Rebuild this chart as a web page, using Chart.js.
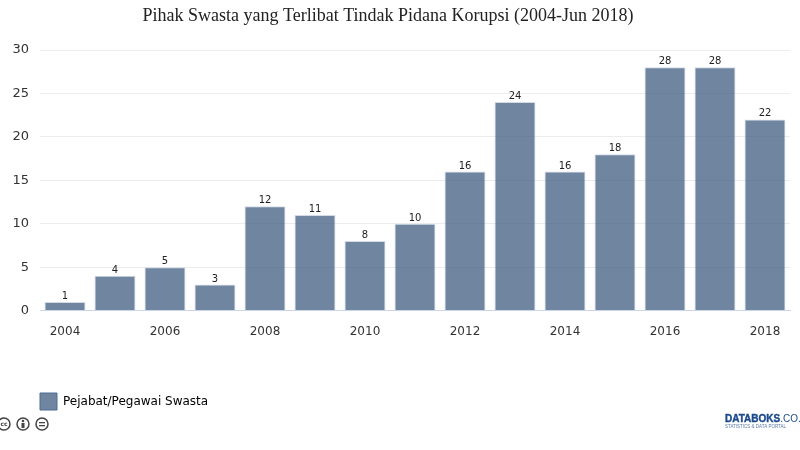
<!DOCTYPE html>
<html>
<head>
<meta charset="utf-8">
<script src="https://cdn.jsdelivr.net/npm/chart.js@4"></script>
<style>
  html, body { margin: 0; padding: 0; background: #fff; }
  #wrap { position: relative; width: 800px; height: 450px; overflow: hidden; }
</style>
</head>
<body>
<div id="wrap"><canvas id="korupsiChart" width="800" height="450"></canvas></div>
<script>
// data
const years = ['2004','2005','2006','2007','2008','2009','2010','2011','2012','2013','2014','2015','2016','2017','2018'];
const swasta = [1,4,5,3,12,11,8,10,16,24,16,18,28,28,22];
const seriesName = 'Pejabat/Pegawai Swasta';
const chartTitle = 'Pihak Swasta yang Terlibat Tindak Pidana Korupsi (2004-Jun 2018)';
const logoMain = 'DATABOKS';
const logoTail = '.CO.ID';
const logoSub = 'STATISTICS & DATA PORTAL';

const fontName = '"DejaVu Sans", Verdana, sans-serif';
const barFill = 'rgba(63,92,128,0.75)';

// labels on top of the bars, the title, the logo and the cc icons
const extras = {
  id: 'extras',
  afterDatasetsDraw(chart) {
    const c = chart.ctx;
    const bars = chart.getDatasetMeta(0).data;
    c.save();
    c.fillStyle = '#222';
    c.font = '10px ' + fontName;
    c.textAlign = 'center';
    c.textBaseline = 'alphabetic';
    bars.forEach((bar, i) => {
      c.fillText(swasta[i], bar.x, bar.y - 3);
    });

    c.fillStyle = '#222';
    c.font = '18px "Liberation Serif", serif';
    c.fillText(chartTitle, 388, 21);

    // cc icons
    [4, 23, 42].forEach((x, i) => {
      c.beginPath();
      c.arc(x, 424, 6, 0, Math.PI * 2);
      c.lineWidth = 1.5;
      c.strokeStyle = '#444';
      c.stroke();
      c.fillStyle = '#444';
      if (i === 1) {
        c.fillRect(x - 1.5, 423, 3, 5);
        c.beginPath();
        c.arc(x, 421, 1.3, 0, Math.PI * 2);
        c.fill();
      } else if (i === 2) {
        c.fillRect(x - 3, 422, 6, 1.3);
        c.fillRect(x - 3, 425, 6, 1.3);
      } else {
        c.font = 'bold 6px ' + fontName;
        c.textBaseline = 'middle';
        c.fillText('cc', x, 424);
        c.textBaseline = 'alphabetic';
      }
    });

    // logo
    c.textAlign = 'left';
    c.font = 'bold 10px "Liberation Sans", sans-serif';
    c.fillStyle = '#1d4a8c';
    c.strokeStyle = '#1d4a8c';
    c.lineWidth = 0.4;
    c.fillText(logoMain, 725, 422);
    c.strokeText(logoMain, 725, 422);
    const w = c.measureText(logoMain).width;
    c.font = '10px "Liberation Sans", sans-serif';
    c.fillText(logoTail, 725 + w, 422);
    c.font = '4.5px "Liberation Sans", sans-serif';
    c.fillStyle = '#5a78a8';
    c.fillText(logoSub, 725, 428);
    c.restore();
  }
};

const ctx = document.getElementById('korupsiChart').getContext('2d');
const myChart = new Chart(ctx, {
  type: 'bar',
  plugins: [extras],
  data: {
    labels: years,
    datasets: [{
      label: seriesName,
      data: swasta,
      backgroundColor: barFill,
      borderColor: 'rgba(200,210,225,0.8)',
      borderWidth: 1,
      barPercentage: 1,
      categoryPercentage: 0.82
    }]
  },
  options: {
    responsive: false,
    animation: false,
    layout: { padding: { top: 50, right: 10, bottom: 30 } },
    plugins: {
      title: { display: false },
      tooltip: { enabled: false },
      legend: {
        position: 'bottom',
        align: 'start',
        labels: {
          boxWidth: 17,
          boxHeight: 17,
          padding: 40,
          color: '#333',
          font: { family: fontName, size: 12 },
          generateLabels(chart) {
            return [{
              text: seriesName,
              fillStyle: barFill,
              strokeStyle: '#4e6d93',
              lineWidth: 1,
              datasetIndex: 0
            }];
          }
        }
      }
    },
    scales: {
      x: {
        grid: { display: false, drawTicks: false },
        border: { color: '#ccd6eb' },
        ticks: {
          autoSkip: false,
          maxRotation: 0,
          padding: 14,
          color: '#333',
          font: { family: fontName, size: 12 },
          callback(value, index) {
            return index % 2 === 0 ? years[index] : '';
          }
        }
      },
      y: {
        min: 0,
        max: 30,
        afterFit(scale) { scale.width = 40; },
        grid: { color: '#ececec', drawTicks: false },
        border: { display: false },
        ticks: {
          stepSize: 5,
          padding: 11,
          color: '#333',
          font: { family: fontName, size: 13 }
        }
      }
    }
  }
});
</script>
</body>
</html>
